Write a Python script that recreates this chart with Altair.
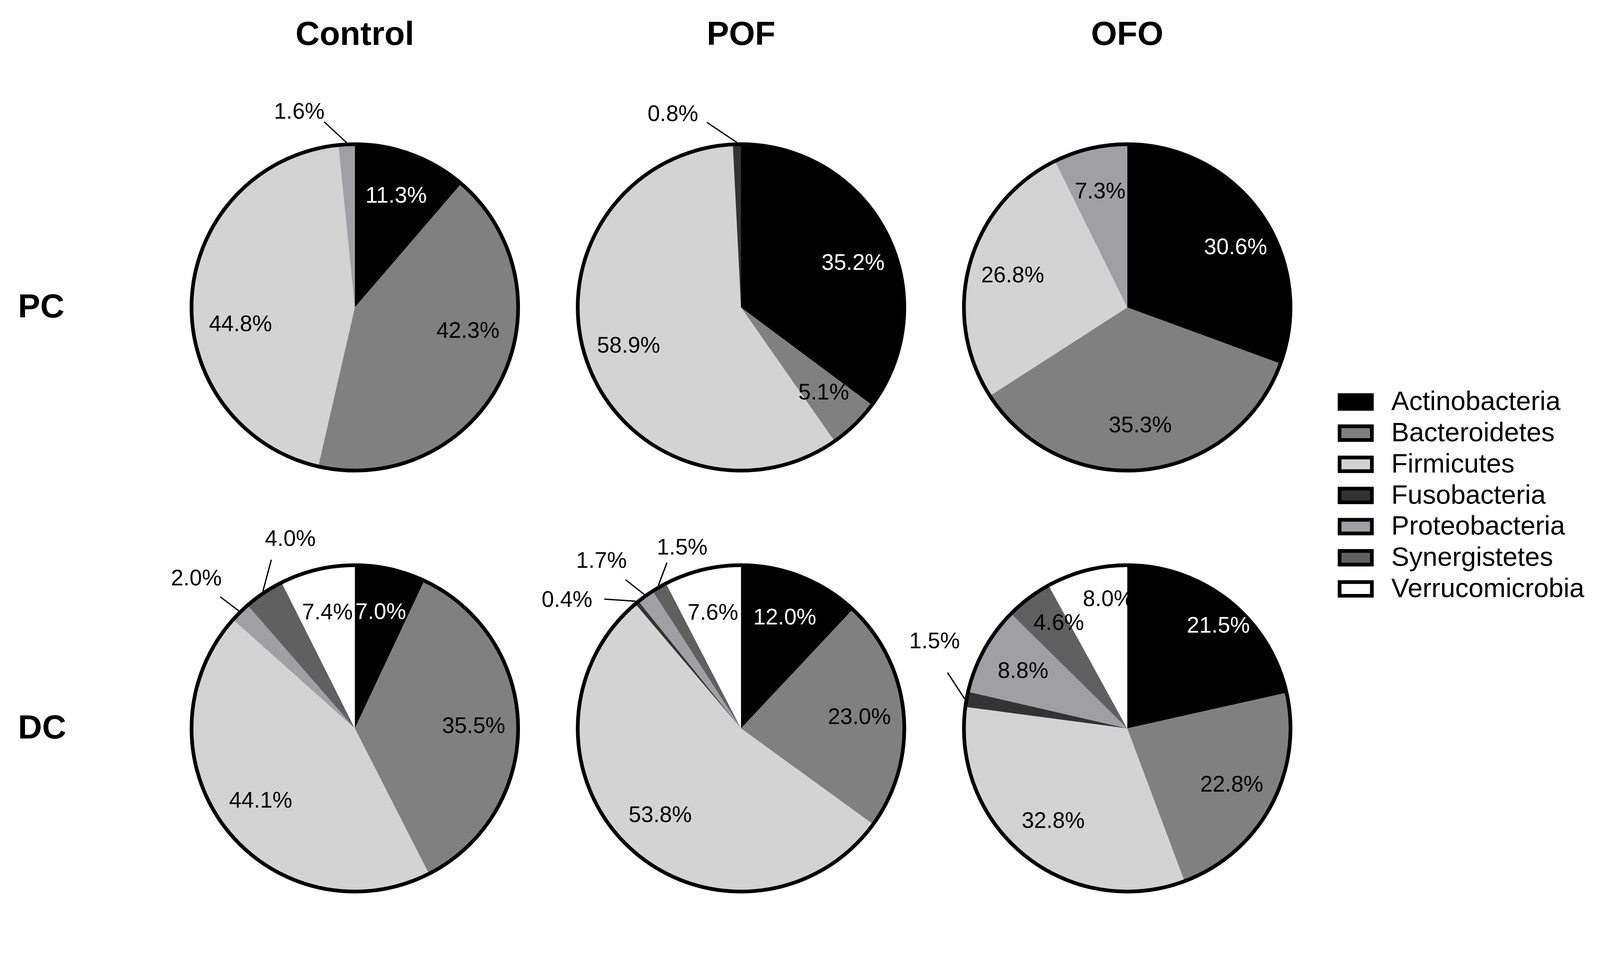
import math
import altair as alt
import pandas as pd

# ---------------- data (percent of reads) ----------------
GROUPS = ["Control", "POF", "OFO"]
REGIONS = ["PC", "DC"]
PHYLA = ["Actinobacteria", "Bacteroidetes", "Firmicutes", "Fusobacteria",
         "Proteobacteria", "Synergistetes", "Verrucomicrobia"]
COLORS = ["#000000", "#808080", "#d3d3d3", "#333333", "#a0a0a4", "#606060", "#ffffff"]

# values in PHYLA order
PC_CONTROL = [11.3, 42.3, 44.8, 0.0, 1.6, 0.0, 0.0]
PC_POF = [35.2, 5.1, 58.9, 0.8, 0.0, 0.0, 0.0]
PC_OFO = [30.6, 35.3, 26.8, 0.0, 7.3, 0.0, 0.0]
DC_CONTROL = [7.0, 35.5, 44.1, 0.0, 2.0, 4.0, 7.4]
DC_POF = [12.0, 23.0, 53.8, 0.4, 1.7, 1.5, 7.6]
DC_OFO = [21.5, 22.8, 32.8, 1.5, 8.8, 4.6, 8.0]

SERIES = [
    ("PC", "Control", PC_CONTROL), ("PC", "POF", PC_POF), ("PC", "OFO", PC_OFO),
    ("DC", "Control", DC_CONTROL), ("DC", "POF", DC_POF), ("DC", "OFO", DC_OFO),
]

# ---------------- layout (pixels) ----------------
W, H = 4296, 2360
COL_CX = {"Control": 948, "POF": 1989, "OFO": 3030}   # pie centres per column
ROW_CY = {"PC": 758, "DC": 1893}                      # pie centres per row
TITLE_BASE_Y = 50                                     # baseline of column titles
ROW_TITLE_X = 40                                      # left edge of row titles
R = 440                 # pie radius (centre of the outline stroke)
EDGE = R + 5            # outer edge of the outline
IN_RF = 0.72            # default radius (/EDGE) of labels inside slices
OUT_RF = 1.25           # default radius (/EDGE) of labels outside slices
OUTSIDE_BELOW = 4.5     # slices smaller than this get an outside label
# label placement tweaks: (angular nudge from slice middle in degrees, radius / EDGE)
LABEL_PLACE = {
    ("Control", "PC", "Bacteroidetes"): (-15, 0.70),
    ("Control", "PC", "Firmicutes"): (-12, 0.70),
    ("POF", "PC", "Actinobacteria"): (5, 0.73),
    ("OFO", "PC", "Actinobacteria"): (6, 0.75),
    ("OFO", "DC", "Actinobacteria"): (3, 0.83),
    ("OFO", "DC", "Synergistetes"): (4, 0.76),
    ("OFO", "DC", "Verrucomicrobia"): (6, 0.79),
    ("Control", "PC", "Proteobacteria"): (-13, 1.23),
    ("POF", "PC", "Fusobacteria"): (-18, 1.24),
    ("Control", "DC", "Proteobacteria"): (-2, 1.32),
    ("Control", "DC", "Synergistetes"): (15, 1.21),
    ("POF", "DC", "Fusobacteria"): (-14, 1.31),
    ("POF", "DC", "Proteobacteria"): (-4, 1.32),
    ("POF", "DC", "Synergistetes"): (12, 1.15),
    ("OFO", "DC", "Fusobacteria"): (14, 1.28),
}

rows = []
for region, group, vals in SERIES:
    cx, cy = COL_CX[group], ROW_CY[region]
    total = sum(vals)
    cum = 0.0
    for ph, v in zip(PHYLA, vals):
        if v <= 0:
            continue
        t0 = cum / total
        cum += v
        t1 = cum / total
        mid = (t0 + t1) / 2 * 2 * math.pi
        outside = v < OUTSIDE_BELOW
        nud_deg, rf = LABEL_PLACE.get((group, region, ph),
                                      (0, OUT_RF if outside else IN_RF))
        nud = math.radians(nud_deg)
        a = mid + nud
        rec = dict(region=region, group=group, phylum=ph, value=v, t0=t0, t1=t1,
                   cx=cx, cy=cy, label=f"{v:.1f}%", outside=outside,
                   white=(ph == "Actinobacteria" and not outside),
                   lx=cx + rf * EDGE * math.sin(a), ly=cy - rf * EDGE * math.cos(a),
                   sx=cx, sy=cy, ex=cx, ey=cy)
        if outside:
            e = mid + nud / 2
            lead = min(1.14, rf - 0.05) * EDGE
            rec.update(sx=cx + EDGE * math.sin(mid), sy=cy - EDGE * math.cos(mid),
                       ex=cx + lead * math.sin(e), ey=cy - lead * math.cos(e))
        rows.append(rec)

df = pd.DataFrame(rows)
col_df = pd.DataFrame({"title": GROUPS, "x": [COL_CX[g] for g in GROUPS],
                       "y": [TITLE_BASE_Y] * len(GROUPS)})
row_df = pd.DataFrame({"title": REGIONS, "x": [ROW_TITLE_X] * len(REGIONS),
                       "y": [ROW_CY[r] for r in REGIONS]})

FONT = "Liberation Sans"
xs = alt.Scale(domain=[0, W], nice=False, zero=False)
ys = alt.Scale(domain=[0, H], nice=False, zero=False, reverse=True)

base = alt.Chart(df)

arcs = base.mark_arc(radius=R).encode(
    x=alt.X("cx:Q", scale=xs, axis=None),
    y=alt.Y("cy:Q", scale=ys, axis=None),
    theta=alt.Theta("t0:Q", scale=alt.Scale(domain=[0, 1], range=[0, 2 * math.pi])),
    theta2="t1:Q",
    color=alt.Color(
        "phylum:N",
        scale=alt.Scale(domain=PHYLA, range=COLORS),
        legend=alt.Legend(
            title=None, orient="none", legendX=3610, legendY=977,
            symbolType="M-1.74,-0.74H1.74V0.74H-1.74Z", symbolSize=2500,
            symbolStrokeColor="black", symbolStrokeWidth=10,
            labelFont=FONT, labelFontSize=72, labelColor="black",
            labelOffset=60, rowPadding=6, padding=0, labelLimit=1000,
        ),
    ),
    order=alt.Order("t0:Q"),
)

outline = base.transform_filter(alt.datum.phylum == "Actinobacteria").mark_arc(
    radius=R, theta=0, theta2=6.2832, filled=False, stroke="black", strokeWidth=10
).encode(
    x=alt.X("cx:Q", scale=xs, axis=None),
    y=alt.Y("cy:Q", scale=ys, axis=None),
)

leaders = base.transform_filter(alt.datum.outside).mark_rule(
    color="black", strokeWidth=3.5
).encode(
    x=alt.X("sx:Q", scale=xs, axis=None),
    y=alt.Y("sy:Q", scale=ys, axis=None),
    x2="ex:Q",
    y2="ey:Q",
)

text_black = base.transform_filter("!datum.white").mark_text(
    font=FONT, fontSize=60, color="black", align="center", baseline="middle"
).encode(
    x=alt.X("lx:Q", scale=xs, axis=None),
    y=alt.Y("ly:Q", scale=ys, axis=None),
    text="label:N",
)

text_white = base.transform_filter("datum.white").mark_text(
    font=FONT, fontSize=60, color="white", align="center", baseline="middle"
).encode(
    x=alt.X("lx:Q", scale=xs, axis=None),
    y=alt.Y("ly:Q", scale=ys, axis=None),
    text="label:N",
)

col_titles = alt.Chart(col_df).mark_text(
    font=FONT, fontSize=90, fontWeight="bold", color="black",
    align="center", baseline="alphabetic"
).encode(
    x=alt.X("x:Q", scale=xs, axis=None),
    y=alt.Y("y:Q", scale=ys, axis=None),
    text="title:N",
)

row_titles = alt.Chart(row_df).mark_text(
    font=FONT, fontSize=90, fontWeight="bold", color="black",
    align="left", baseline="middle"
).encode(
    x=alt.X("x:Q", scale=xs, axis=None),
    y=alt.Y("y:Q", scale=ys, axis=None),
    text="title:N",
)

chart = alt.layer(
    arcs, outline, leaders, text_black, text_white, col_titles, row_titles
).properties(
    width=W, height=H,
    autosize=alt.AutoSizeParams(type="none"),
    padding={"left": 0, "top": 0, "right": 0, "bottom": 0},
).configure(font=FONT, background="white").configure_view(stroke=None)

chart.save("out.html", embed_options={"renderer": "svg", "actions": False})
